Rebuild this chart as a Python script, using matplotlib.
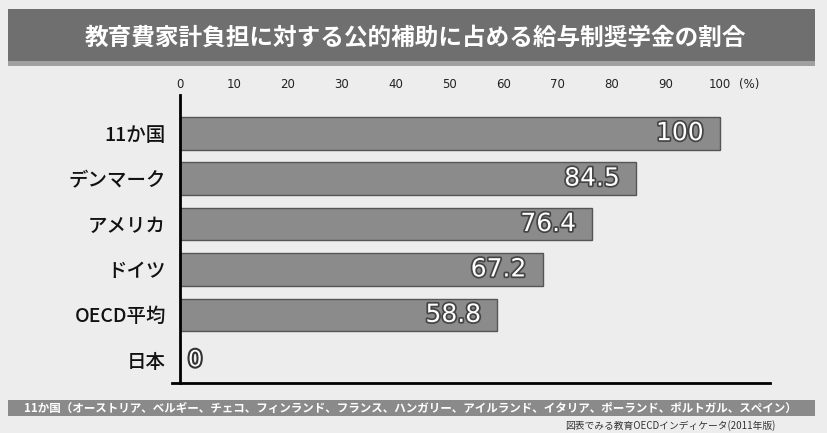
import matplotlib.pyplot as plt
import matplotlib.patheffects as pe
from matplotlib.patches import Rectangle

plt.rcParams['font.family'] = ['Noto Sans CJK JP', 'DejaVu Sans']

# data
countries = ['11か国', 'デンマーク', 'アメリカ', 'ドイツ', 'OECD平均', '日本']
values = [100, 84.5, 76.4, 67.2, 58.8, 0]
value_labels = ['100', '84.5', '76.4', '67.2', '58.8', '0']
ticks = [0, 10, 20, 30, 40, 50, 60, 70, 80, 90, 100]
title = '教育費家計負担に対する公的補助に占める給与制奨学金の割合'
footer = '11か国（オーストリア、ベルギー、チェコ、フィンランド、フランス、ハンガリー、アイルランド、イタリア、ポーランド、ポルトガル、スペイン）'
source = '図表でみる教育OECDインディケータ(2011年版)'

W, H = 827, 433
fig = plt.figure(figsize=(W / 100, H / 100), dpi=100)
fig.patch.set_facecolor('#ededed')

# title banner
fig.patches.append(Rectangle((8 / W, 1 - 66 / H), 807 / W, 57 / H, transform=fig.transFigure,
                             facecolor='#6f6f6f', edgecolor='none'))
fig.patches.append(Rectangle((8 / W, 1 - 66 / H), 807 / W, 5 / H, transform=fig.transFigure,
                             facecolor='#a0a0a0', edgecolor='none'))
fig.text(415 / W, 1 - 38 / H, title, color='white', fontsize=17, fontweight='bold',
         ha='center', va='center')

# footer banner
fig.patches.append(Rectangle((8 / W, 1 - 416 / H), 807 / W, 16 / H, transform=fig.transFigure,
                             facecolor='#8a8a8a', edgecolor='none'))
fig.text(410 / W, 1 - 408 / H, footer, color='white', fontsize=8.3, fontweight='bold',
         ha='center', va='center')
fig.text(775 / W, 1 - 426 / H, source, color='#333333', fontsize=7, ha='right', va='center')

# axes
ax = fig.add_axes([180 / W, 1 - 383 / H, 590 / W, 288 / H])
ax.set_facecolor('none')
y = list(range(len(countries)))
ax.barh(y, values, height=0.72, color='#8b8b8b', edgecolor='#555555', linewidth=1)
ax.set_xlim(0, 109.3)
ax.set_ylim(5.5, -0.84)

ax.set_yticks(y)
ax.set_yticklabels(countries, fontsize=14, color='#111111', fontweight='medium')
ax.xaxis.tick_top()
ax.set_xticks(ticks)
ax.set_xticklabels([str(t) for t in ticks], fontsize=8.5, color='#222222',
                   family='DejaVu Sans')
ax.tick_params(axis='both', length=0)
ax.tick_params(axis='x', pad=3)
ax.tick_params(axis='y', pad=10)
ax.annotate('(%)', xy=(103.5, 1.0), xycoords=('data', 'axes fraction'),
            xytext=(0, 3), textcoords='offset points', fontsize=8.5, color='#222222',
            ha='left', va='bottom', family='DejaVu Sans')

for s in ['top', 'right']:
    ax.spines[s].set_visible(False)
ax.spines['left'].set_linewidth(2)
ax.spines['bottom'].set_linewidth(2)
ax.spines['bottom'].set_bounds(-1.5, 109.3)

stroke = [pe.withStroke(linewidth=2.5, foreground='#444444')]
for i, (v, lab) in enumerate(zip(values, value_labels)):
    if v > 0:
        ax.text(v - 3, i, lab, color='white', fontsize=18, ha='right', va='center',
                family='DejaVu Sans', path_effects=stroke)
    else:
        ax.text(1.5, i, lab, color='white', fontsize=16, ha='left', va='center',
                family='DejaVu Sans', path_effects=[pe.withStroke(linewidth=3, foreground='#333333')])

fig.savefig('out.png', dpi=100, facecolor=fig.get_facecolor())
